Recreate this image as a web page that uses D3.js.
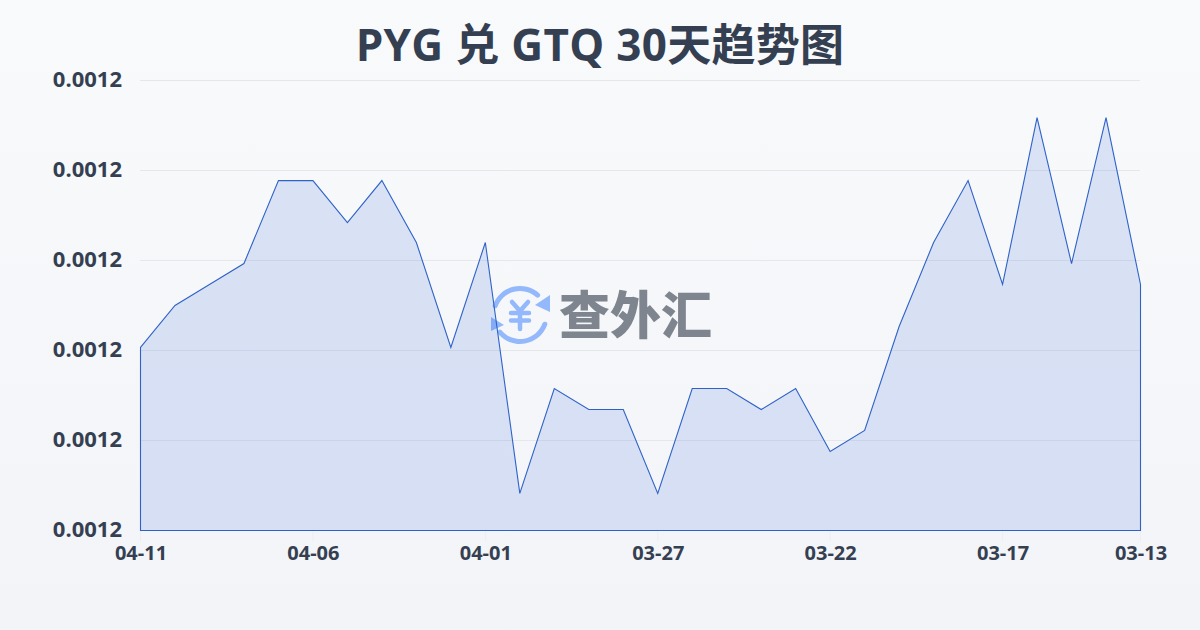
<!DOCTYPE html>
<html><head><meta charset="utf-8">
<script src="https://cdn.jsdelivr.net/npm/d3@7/dist/d3.min.js"></script>
<style>html,body{margin:0;padding:0;width:1200px;height:630px;overflow:hidden}svg{display:block}</style>
</head><body><svg id="c" width="1200" height="630"></svg>
<script>
const titleText = "PYG 兑 GTQ 30天趋势图";
const dates = ["04-11","04-10","04-09","04-08","04-07","04-06","04-05","04-04","04-03","04-02","04-01","03-31","03-30","03-29","03-28","03-27","03-26","03-25","03-24","03-23","03-22","03-21","03-20","03-19","03-18","03-17","03-16","03-15","03-14","03-13"];
const rates = [0.00119017,0.00119250,0.00119367,0.00119483,0.00119944,0.00119944,0.00119711,0.00119944,0.00119600,0.00119017,0.00119600,0.00118206,0.00118789,0.00118672,0.00118672,0.00118206,0.00118789,0.00118789,0.00118672,0.00118789,0.00118439,0.00118556,0.00119133,0.00119600,0.00119944,0.00119367,0.00120294,0.00119483,0.00120294,0.00119367];
const xTickLabels = ["04-11","04-06","04-01","03-27","03-22","03-17","03-13"];
const yTickValues = [0.00118,0.001185,0.00119,0.001195,0.0012,0.001205];
const yDomain = [0.00118,0.001205];

const svg = d3.select("#c");
const defs = svg.append("defs");
const bg = defs.append("linearGradient").attr("id","bg").attr("x1",0).attr("y1",0).attr("x2",0).attr("y2",1);
bg.append("stop").attr("offset",0).attr("stop-color","#f8fafc");
bg.append("stop").attr("offset",1).attr("stop-color","#f3f4f7");
svg.append("rect").attr("width",1200).attr("height",630).attr("fill","url(#bg)");

const x = d3.scalePoint().domain(dates).range([140.5,1140.5]);
const y = d3.scaleLinear().domain(yDomain).range([530.5,80.5]);
const ink = "#353f52";
const latin = "'Open Sans','Noto Sans CJK SC',sans-serif";

svg.append("text").attr("x",600).attr("y",61).attr("text-anchor","middle")
  .attr("font-family",latin).attr("font-weight",700).attr("letter-spacing",0.3)
  .attr("font-size",44).attr("fill",ink).text(titleText);

// grid
svg.append("g").selectAll("line").data(yTickValues.slice(1)).join("line")
  .attr("x1",140).attr("x2",1140).attr("y1",d=>y(d)).attr("y2",d=>y(d))
  .attr("stroke","#e5e7eb").attr("stroke-width",1);

// watermark
const wm = svg.append("g");
const blue="#93b8fb";
const cx=520,cy=315,r=26.5;
const arc=d3.arc().innerRadius(r-2.5).outerRadius(r+2.5).cornerRadius(2.5);
const deg=Math.PI/180;
wm.append("path").attr("transform",`translate(${cx},${cy})`).attr("fill",blue).attr("d",arc({startAngle:-75*deg,endAngle:47*deg}));
wm.append("path").attr("transform",`translate(${cx},${cy})`).attr("fill",blue).attr("d",arc({startAngle:105*deg,endAngle:235*deg}));
wm.append("path").attr("fill",blue).attr("d","M550 295L550 312L535 305Z");
wm.append("path").attr("fill",blue).attr("d","M491 317L491 331L504 325Z");
wm.append("path").attr("fill","none").attr("stroke",blue).attr("stroke-width",4.5).attr("stroke-linecap","round")
  .attr("d","M512 302L520 311L528 302M511 313H529M511 320.5H529M520 311V329");
wm.append("text").attr("x",559).attr("y",334).attr("font-family","'Noto Sans CJK SC',sans-serif").attr("font-weight",900).attr("font-size",51).attr("fill","#7f858f").text("查外汇");

// area
const area=d3.area().x(d=>x(d.d)).y0(530.5).y1(d=>y(d.v));
const rows=dates.map((d,i)=>({d,v:rates[i]}));
svg.append("path").datum(rows).attr("d",area).attr("fill","#2f62d8").attr("fill-opacity",0.15)
  .attr("stroke","#2f62c8").attr("stroke-width",1.1);

// y labels
svg.append("g").selectAll("text").data(yTickValues).join("text")
  .attr("x",122).attr("y",d=>y(d)+6).attr("text-anchor","end")
  .attr("font-family",latin).attr("font-weight",700).attr("font-size",22).attr("fill",ink)
  .text(d=>d.toFixed(4));

// x axis
svg.append("g").selectAll("line").data(xTickLabels).join("line")
  .attr("x1",d=>x(d)).attr("x2",d=>x(d)).attr("y1",531).attr("y2",541).attr("stroke","#eceef1");
svg.append("g").selectAll("text").data(xTickLabels).join("text")
  .attr("x",d=>x(d)+.5).attr("y",560).attr("text-anchor","middle")
  .attr("font-family",latin).attr("font-weight",700).attr("font-size",20).attr("fill",ink)
  .text(d=>d);
</script></body></html>
